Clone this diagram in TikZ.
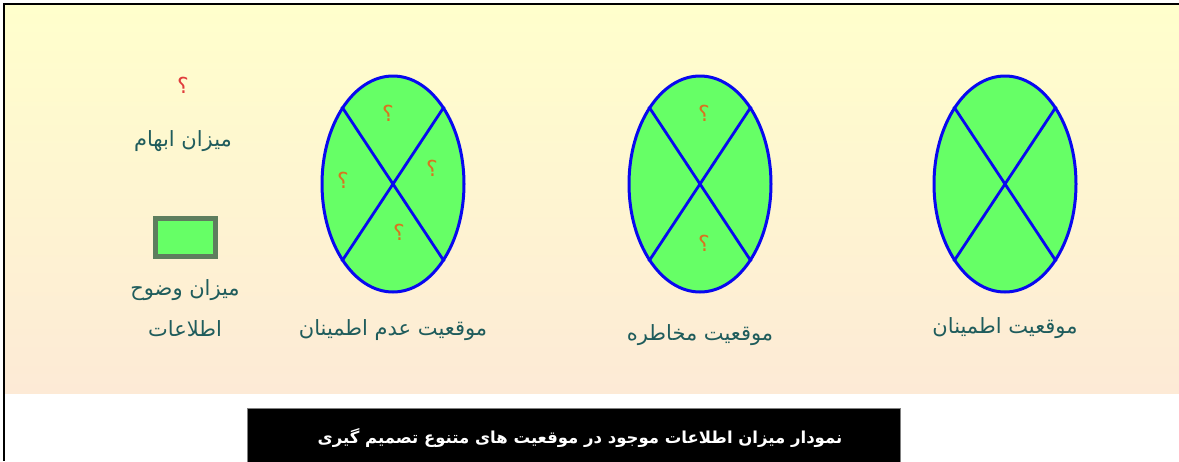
\documentclass[tikz,border=0pt]{standalone}
\usepackage{fontspec}
\newfontfamily\farsi[Script=Arabic]{DejaVu Sans}
\TeXXeTstate=1
\usetikzlibrary{shapes.geometric, positioning}

\definecolor{leafgreen}{HTML}{66FF66}
\definecolor{rimblue}{HTML}{0808F0}
\definecolor{labelteal}{HTML}{1F5C5C}
\definecolor{qorange}{HTML}{D9731F}
\definecolor{qred}{HTML}{E03C3C}
\definecolor{paneltop}{HTML}{FFFFCC}
\definecolor{panelbottom}{HTML}{FDEAD6}
\definecolor{keyrim}{HTML}{5E7E5E}

\newcommand{\fa}[1]{\farsi\beginR #1\endR}

\begin{document}
\begin{tikzpicture}[
    x=1pt, y=-1pt,
    situation/.style={ellipse, draw=rimblue, line width=3pt, fill=leafgreen,
        minimum width=142pt, minimum height=216pt, inner sep=0pt},
    crossline/.style={draw=rimblue, line width=2.8pt},
    qmark/.style={font=\farsi\fontsize{22}{22}\selectfont, text=qorange, inner sep=0pt},
    nametext/.style={font=\fontsize{21}{25}\selectfont, text=labelteal, align=center, inner sep=1pt},
    keybox/.style={draw=keyrim, line width=5pt, fill=leafgreen,
        minimum width=60pt, minimum height=38pt, inner sep=0pt}
    ]
    % Frame and background
    \useasboundingbox (0,0) rectangle (1179,461);
    \fill[white] (0,0) rectangle (1179,461);
    \shade[top color=paneltop, bottom color=panelbottom] (4,4) rectangle (1179,393);
    \draw[line width=2pt] (1179,4) -- (4,4) -- (4,461);

    % Situations
    \node[situation] (uncertain) at (393,184) {};
    \node[situation] (risk) at (700,184) {};
    \node[situation] (certain) at (1005,184) {};

    % Crosses
    \foreach \s in {uncertain, risk, certain} {
        \draw[crossline] (\s.north west) -- (\s.south east);
        \draw[crossline] (\s.north east) -- (\s.south west);
    }

    % Question marks in the quarters
    \node[qmark] (uqtop) at (388,113) {\fa{؟}};
    \node[qmark] (uqright) at (432,168) {\fa{؟}};
    \node[qmark] (uqleft) at (343,180) {\fa{؟}};
    \node[qmark] (uqbottom) at (399,232) {\fa{؟}};
    \node[qmark] (rqtop) at (704,113) {\fa{؟}};
    \node[qmark] (rqbottom) at (704,243) {\fa{؟}};

    % Names of the situations
    \node[nametext] (uncertainname) [below=25pt of uncertain] {\fa{موقعیت عدم اطمینان}};
    \node[nametext] (riskname) [below=30pt of risk] {\fa{موقعیت مخاطره}};
    \node[nametext] (certainname) [below=23pt of certain] {\fa{موقعیت اطمینان}};

    % Key
    \node[qmark, text=qred] (keyq) at (183,85) {\fa{؟}};
    \node[nametext] (keyvague) at (183,141) {\fa{میزان ابهام}};
    \node[keybox] (keyrect) at (185,237) {};
    \node[nametext] (keyclear) at (185,290) {\fa{میزان وضوح}};
    \node[nametext] (keyinfo) at (185,329) {\fa{اطلاعات}};

    % Caption
    \node[draw=gray, fill=black, minimum width=653pt, minimum height=60pt, anchor=north west,
        inner sep=0pt] (captionbox) at (247,408) {};
    \node[font=\farsi\bfseries\fontsize{16.5}{20}\selectfont, text=white] (caption) at (580,438)
        {\beginR نمودار میزان اطلاعات موجود در موقعیت های متنوع تصمیم گیری\endR};
\end{tikzpicture}
\end{document}
